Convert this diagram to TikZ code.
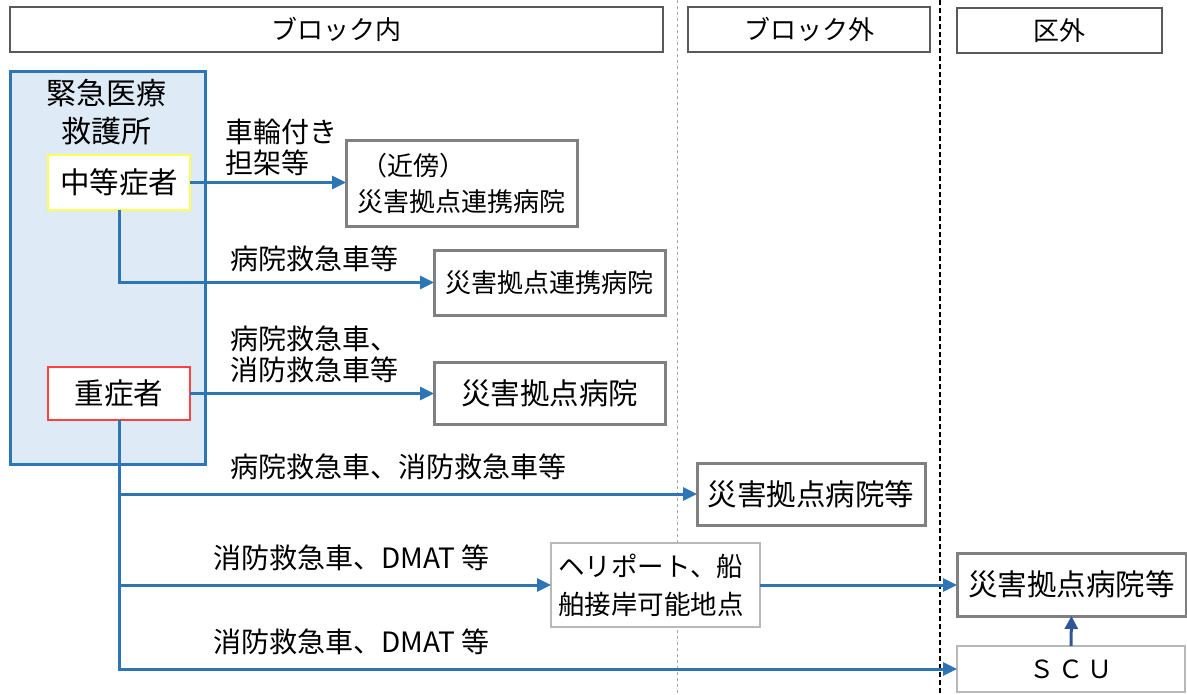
\documentclass[tikz,border=0pt]{standalone}
\usepackage{fontspec}
\setmainfont{Noto Sans CJK JP}
\usetikzlibrary{arrows.meta}
\definecolor{ablue}{HTML}{2E75B6}
\definecolor{dblue}{HTML}{2F5597}
\definecolor{panelfill}{HTML}{DEEBF7}
\definecolor{ylw}{HTML}{FFFF55}
\definecolor{rd}{HTML}{FF4040}
\tikzset{
  hdr/.style={draw=black!65, line width=2pt, fill=white, inner sep=0pt, outer sep=0pt,
    anchor=north west, font=\fontsize{26}{30}\selectfont},
  gbox/.style={draw=black!50, line width=3pt, fill=white, inner sep=0pt, outer sep=0pt,
    anchor=north west},
  lbox/.style={draw=black!28, line width=2.5pt, fill=white, inner sep=0pt, outer sep=0pt,
    anchor=north west},
  pbox/.style={line width=2pt, fill=white, inner sep=0pt, outer sep=0pt,
    anchor=north west, font=\fontsize{29.5}{32}\selectfont},
  lbl/.style={anchor=north west, inner sep=0pt, align=left, font=\fontsize{28}{31}\selectfont},
  arr/.style={draw=ablue, line width=3pt, -{Triangle[length=14pt,width=13pt]}},
}
\begin{document}
\begin{tikzpicture}[x=1pt,y=-1pt]
\useasboundingbox (0,0) rectangle (1187,694);
% region separators
\draw[dashed, black!35, line width=0.8pt] (677,0) -- (677,694);
\draw[black, line width=2pt, dash pattern=on 5pt off 3pt] (940,0) -- (940,694);
% headers
\node[hdr, minimum width=653, minimum height=45] (h1) at (10,7) {ブロック内};
\node[hdr, minimum width=242, minimum height=45] (h2) at (688,7) {ブロック外};
\node[hdr, minimum width=205, minimum height=45] (h3) at (957,8) {区外};
% panel
\node[draw=ablue, line width=3pt, fill=panelfill, inner sep=0pt, outer sep=0pt, anchor=north west,
  minimum width=195, minimum height=393] (panel) at (10,71) {};
\node[anchor=north, inner sep=0pt, align=center, font=\fontsize{30}{38}\selectfont] (ptitle) at (106,79) {緊急医療\\救護所};
\node[pbox, draw=ylw, minimum width=142, minimum height=55] (mid) at (48,155) {中等症者};
\node[pbox, draw=rd, minimum width=142, minimum height=53] (sev) at (48,367) {重症者};
% destination boxes
\node[gbox, minimum width=231, minimum height=86, align=left, font=\fontsize{26}{36}\selectfont] (n1) at (346,140)
  {\hspace*{4pt}（近傍）\\ 災害拠点連携病院};
\node[gbox, minimum width=231, minimum height=65, font=\fontsize{26}{30}\selectfont] (n2) at (434,250) {災害拠点連携病院};
\node[gbox, minimum width=231, minimum height=62, font=\fontsize{29.5}{32}\selectfont] (n3) at (434,362) {災害拠点病院};
\node[gbox, minimum width=228, minimum height=62, font=\fontsize{29.5}{32}\selectfont] (n4) at (697,463) {災害拠点病院等};
\node[lbox, minimum width=209, minimum height=84, text width=195, align=left, font=\fontsize{26.5}{38}\selectfont] (heli) at (551,543)
  {ヘリポート、船\\舶接岸可能地点};
\node[gbox, minimum width=229, minimum height=63, font=\fontsize{29.5}{32}\selectfont] (oh) at (957,553) {災害拠点病院等};
\node[lbox, minimum width=228, minimum height=46, font=\fontsize{25}{30}\selectfont] (scu) at (957,646) {Ｓ\,Ｃ\,Ｕ};
% connectors
\draw[arr] (mid.east) -- (mid.east -| n1.west);
\draw[arr] (mid.south) |- (n2.west);
\draw[arr] (sev.east) -- (sev.east -| n3.west);
\draw[arr] (sev.south) |- (scu.west);
\draw[arr] (sev.south |- n4.west) -- (n4.west);
\draw[arr] (sev.south |- heli.west) -- (heli.west);
\draw[arr] (heli.east) -- (heli.east -| oh.west);
\draw[draw=dblue, line width=3pt, -{Triangle[length=13pt,width=13pt]}] (scu.north) -- (oh.south);
% labels
\node[lbl] (l1) at (225,119) {車輪付き\\担架等};
\node[lbl] (l2) at (230,246) {病院救急車等};
\node[lbl] (l3) at (230,326) {病院救急車、\\消防救急車等};
\node[lbl] (l4) at (230,454) {病院救急車、消防救急車等};
\node[lbl] (l5) at (213,545) {消防救急車、DMAT 等};
\node[lbl] (l6) at (213,629) {消防救急車、DMAT 等};
\end{tikzpicture}
\end{document}
